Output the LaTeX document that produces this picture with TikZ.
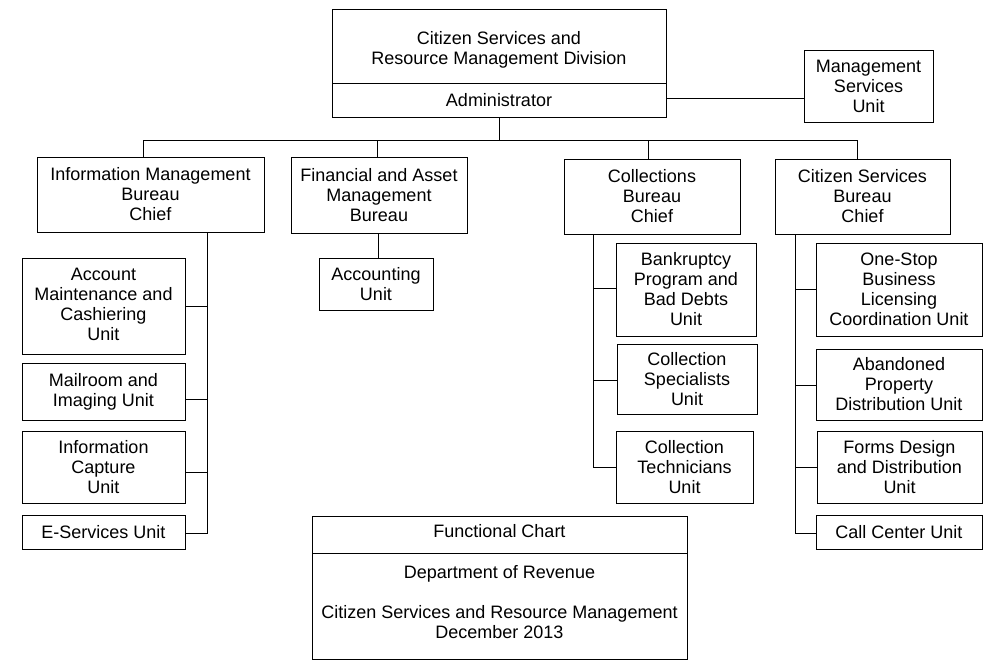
\documentclass[tikz,border=0pt]{standalone}
\usepackage{fontspec}
\setmainfont{Liberation Sans}
\begin{document}
\begin{tikzpicture}[x=1pt,y=-1pt,
  box/.style={draw, line width=1pt, align=center, inner sep=0pt, font=\fontsize{18}{20}\selectfont},
  txt/.style={align=center, inner sep=0pt, font=\fontsize{18}{20}\selectfont},
  conn/.style={line width=1pt}]
\useasboundingbox (0,0) rectangle (994,672);
% top
\node[box, minimum width=334, minimum height=74] (tbt) at (499,46) {};
\node[txt] (tbtx) at (499,49.5) {Citizen Services and\\Resource Management Division};
\node[box, minimum width=334, minimum height=34] (tba) at (499,100) {Administrator};
\node[box, minimum width=129, minimum height=72] (msu) at (868.5,86) {Management\\Services\\Unit};
% bureaus
\node[box, minimum width=227, minimum height=75] (imb) at (150.5,194.5) {Information Management\\Bureau\\Chief};
\node[box, minimum width=176, minimum height=76] (fab) at (379,195) {Financial and Asset\\Management\\Bureau};
\node[box, minimum width=176, minimum height=75] (cob) at (652,196.5) {Collections\\Bureau\\Chief};
\node[box, minimum width=175, minimum height=75] (csb) at (862.5,196.5) {Citizen Services\\Bureau\\Chief};
% accounting
\node[box, minimum width=114, minimum height=52] (acc) at (376,284) {Accounting\\Unit};
% left units
\node[box, minimum width=163, minimum height=96] (am) at (103.5,306) {};
\node[txt] (amx) at (103.5,304) {Account\\Maintenance and\\Cashiering\\Unit};
\node[box, minimum width=163, minimum height=57] (mr) at (103.5,391.5) {Mailroom and\\Imaging Unit};
\node[box, minimum width=163, minimum height=72] (ic) at (103.5,467) {Information\\Capture\\Unit};
\node[box, minimum width=163, minimum height=34] (es) at (103.5,532) {E-Services Unit};
% collections units
\node[box, minimum width=140, minimum height=93] (bk) at (686,289.5) {Bankruptcy\\Program and\\Bad Debts\\Unit};
\node[box, minimum width=140, minimum height=70] (cs) at (687,379) {Collection\\Specialists\\Unit};
\node[box, minimum width=137, minimum height=72] (ct) at (684.5,467) {Collection\\Technicians\\Unit};
% citizen services units
\node[box, minimum width=166, minimum height=93] (os) at (899,289.5) {One-Stop\\Business\\Licensing\\Coordination Unit};
\node[box, minimum width=166, minimum height=71] (ab) at (899,384.5) {Abandoned\\Property\\Distribution Unit};
\node[box, minimum width=165, minimum height=72] (fd) at (899.5,467) {Forms Design\\and Distribution\\Unit};
\node[box, minimum width=166, minimum height=34] (cc) at (899,532) {Call Center Unit};
% functional chart
\node[box, minimum width=375, minimum height=37] (fch) at (499.5,534.5) {};
\node[txt] (fchx) at (499.5,531) {Functional Chart};
\node[box, minimum width=375, minimum height=106] (fcb) at (499.5,606) {};
\node[txt] (fct) at (499.5,602) {Department of Revenue\\[20pt]Citizen Services and Resource Management\\December 2013};
% connectors
\draw[conn] (tba.east |- 0,98) -- (msu.west |- 0,98);
\draw[conn] (tba.south) -- (tba.south |- 0,140);
\draw[conn] (imb.north -| 143,0) -- (143,140) -- (857,140) -- (csb.north -| 857,0);
\draw[conn] (fab.north -| 377,0) -- (377,140);
\draw[conn] (cob.north -| 648,0) -- (648,140);
\draw[conn] (fab.south -| 378,0) -- (acc.north -| 378,0);
% left spine
\draw[conn] (imb.south -| 207,0) |- (es.east |- 0,533);
\draw[conn] (am.east) -- (am.east -| 207,0);
\draw[conn] (mr.east |- 0,399) -- (207,399);
\draw[conn] (ic.east |- 0,472) -- (207,472);
% collections spine
\draw[conn] (cob.south -| 593,0) |- (ct.west);
\draw[conn] (bk.west |- 0,288) -- (593,288);
\draw[conn] (cs.west |- 0,380) -- (593,380);
% citizen services spine
\draw[conn] (csb.south -| 795,0) |- (cc.west |- 0,533);
\draw[conn] (os.west |- 0,289) -- (795,289);
\draw[conn] (ab.west |- 0,385) -- (795,385);
\draw[conn] (fd.west) -- (fd.west -| 795,0);
\end{tikzpicture}
\end{document}
